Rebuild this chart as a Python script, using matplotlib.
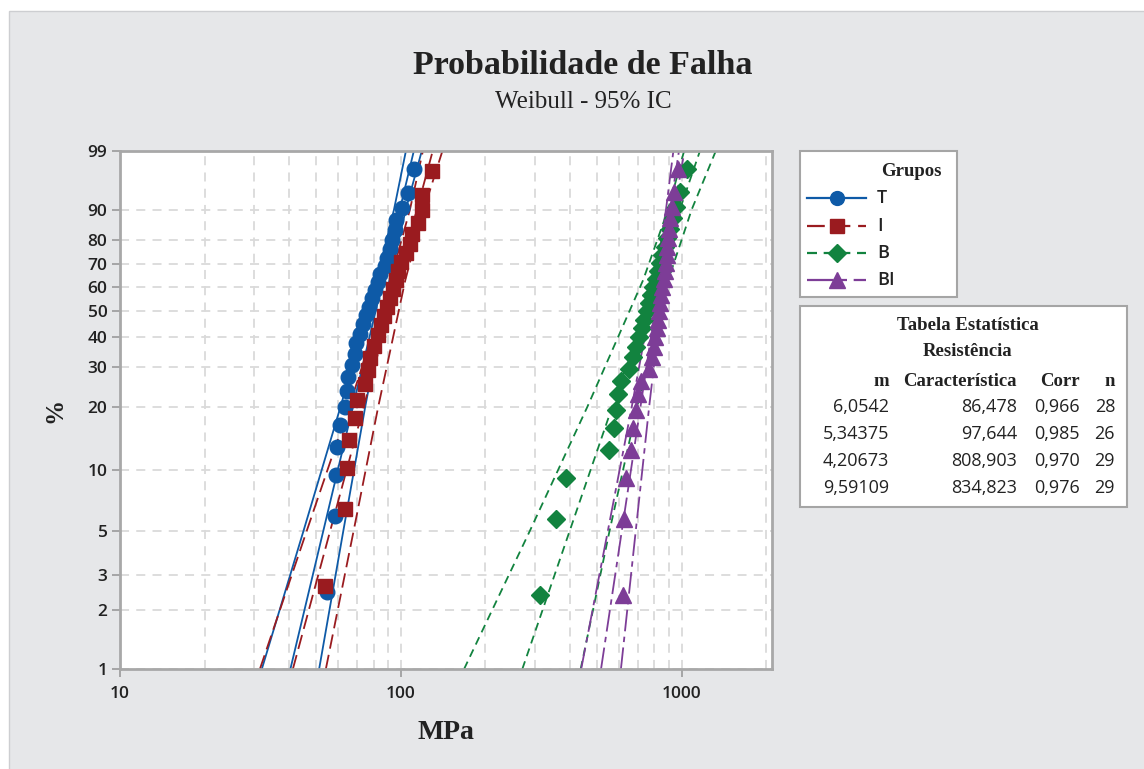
import numpy as np
import matplotlib.pyplot as plt
from matplotlib.lines import Line2D
from matplotlib.patches import Rectangle

# Grupos e estilos
groups = ["T", "I", "B", "BI"]
colors = ["#0E5AA7", "#9A1B1F", "#12833F", "#7D3D97"]
markers = ["o", "s", "D", "^"]
msizes = [10.5, 10.0, 9.5, 11.5]
dashes = [None, (8, 3.5), (4.5, 3), (12, 3, 3, 3)]

# Resistencia (MPa), em ordem crescente
t_mpa = [54.5, 58.1, 58.8, 59.1, 60.7, 63.4, 64.1, 64.8, 67.3, 68.7, 69.1, 71.5,
         73.5, 75.3, 77.2, 79.0, 80.9, 82.8, 84.5, 88.2, 89.3, 91.8, 92.7, 95.6,
         96.2, 101.0, 106.1, 111.6]
i_mpa = [53.7, 63.1, 64.1, 65.5, 68.5, 70.0, 74.6, 76.7, 77.5, 80.6, 82.9, 85.1,
         87.3, 89.4, 91.5, 93.7, 95.8, 98.0, 100.3, 104.5, 107.5, 110.0, 115.0,
         119.5, 119.5, 129.0]
b_mpa = [312.5, 357.5, 389.0, 553.6, 577.0, 586.6, 592.9, 609.5, 648.0, 674.0,
         690.0, 704.4, 724.3, 733.9, 751.6, 765.9, 779.8, 794.0, 808.5, 823.3,
         838.3, 853.6, 870.0, 888.0, 907.0, 929.0, 954.3, 988.0, 1048.0]
bi_mpa = [618.6, 623.7, 631.6, 658.1, 669.0, 688.5, 697.0, 720.1, 768.9, 784.8,
          796.5, 807.7, 817.7, 824.5, 830.0, 836.2, 841.6, 853.6, 862.7, 869.9,
          877.1, 884.3, 890.2, 895.3, 902.6, 910.1, 925.1, 936.6, 967.7]

# Tabela estatistica
m_shape = [6.0542, 5.34375, 4.20673, 9.59109]
eta = [86.478, 97.644, 808.903, 834.823]
corr = [0.966, 0.985, 0.970, 0.976]
n_obs = [28, 26, 29, 29]

# Limites do IC 95% (MPa) lidos em alguns niveis de %
ci_pct = [1, 5, 20, 63.2, 90, 99]
t_low = [32.0, 45.0, 61.0, 82.1, 94.6, 104.3]
t_up = [51.2, 62.4, 74.7, 91.1, 104.2, 118.8]
i_low = [31.5, 46.2, 65.4, 91.9, 107.8, 119.9]
i_up = [54.1, 67.9, 83.1, 103.8, 120.8, 140.7]
b_low = [168.1, 287.9, 461.8, 729.7, 895.1, 1021.2]
b_up = [437.3, 553.8, 694.4, 896.7, 1086.8, 1324.3]
bi_low = [439.1, 546.2, 664.8, 805.1, 880.3, 935.3]
bi_up = [608.3, 686.7, 766.7, 865.6, 942.2, 1024.5]

y_ticks = [1, 2, 3, 5, 10, 20, 30, 40, 50, 60, 70, 80, 90, 99]

data = [t_mpa, i_mpa, b_mpa, bi_mpa]
lows = [t_low, i_low, b_low, bi_low]
ups = [t_up, i_up, b_up, bi_up]

serif = "Liberation Serif"
sans = "Open Sans"
W, H = 1144, 769


def fwd(p):
    p = np.clip(np.asarray(p, dtype=float), 1e-6, 100 - 1e-6)
    return np.log(-np.log(1 - p / 100.0))


def inv(w):
    return 100.0 * (1 - np.exp(-np.exp(np.asarray(w, dtype=float))))


fig = plt.figure(figsize=(W / 100, H / 100), dpi=100, facecolor="white")

# fundo cinza e caixas da legenda
bg = fig.add_axes([0, 0, 1, 1], zorder=-5)
bg.set_xlim(0, W)
bg.set_ylim(H, 0)
bg.axis("off")
bg.add_patch(Rectangle((9, 11), W, H, facecolor="#E6E7E9", edgecolor="#CDCED1", lw=1))

ax = fig.add_axes([120 / W, 1 - 669 / H, (772 - 120) / W, (669 - 151) / H])
ax.set_facecolor("white")
ax.set_xscale("log")
ax.set_yscale("function", functions=(fwd, inv))
ax.set_xlim(10, 2100)
ax.set_ylim(1, 99)

# grade
grid_x = [v * d for d in (10, 100, 1000) for v in range(1, 10) if v * d <= 2000]
for gx in grid_x:
    ax.axvline(gx, color="#DADADA", lw=1.3, ls=(0, (5, 4)), zorder=0)
for gy in y_ticks:
    ax.axhline(gy, color="#DADADA", lw=1.3, ls=(0, (5, 4)), zorder=0)

for k in range(4):
    col = colors[k]
    ls = "-" if dashes[k] is None else (0, dashes[k])
    # linha ajustada a partir de m e escala caracteristica
    p_end = np.array([1.0, 99.0])
    x_fit = eta[k] * (-np.log(1 - p_end / 100)) ** (1 / m_shape[k])
    ax.plot(x_fit, p_end, color=col, lw=1.3, ls=ls, zorder=2)
    ax.plot(lows[k], ci_pct, color=col, lw=1.3, ls=ls, zorder=2)
    ax.plot(ups[k], ci_pct, color=col, lw=1.3, ls=ls, zorder=2)
    # posicoes de plotagem (rank mediano)
    n = len(data[k])
    rank = (np.arange(1, n + 1) - 0.3) / (n + 0.4) * 100
    ax.plot(data[k], rank, ls="none", marker=markers[k], ms=msizes[k],
            color=col, mec=col, zorder=3)

ax.set_yticks(y_ticks)
ax.set_yticklabels([str(v) for v in y_ticks])
ax.yaxis.set_minor_locator(plt.NullLocator())
ax.set_xticks([10, 100, 1000])
ax.set_xticklabels(["10", "100", "1000"])
ax.xaxis.set_minor_locator(plt.NullLocator())
ax.tick_params(axis="both", direction="out", length=6, width=1.3, color="#A0A0A0",
               labelcolor="#222222", labelsize=12.5)
for lab in ax.get_xticklabels() + ax.get_yticklabels():
    lab.set_fontfamily(sans)
    lab.set_fontweight("semibold")
ax.tick_params(axis="x", pad=6)
ax.tick_params(axis="y", pad=3)
for sp in ax.spines.values():
    sp.set_color("#A8A8A8")
    sp.set_linewidth(2)

ax.set_xlabel("MPa", fontfamily=serif, fontweight="bold", fontsize=20, color="#222222")
ax.xaxis.set_label_coords(0.5, -0.122)
ax.xaxis.label.set_va("center")
ax.set_ylabel("%", fontfamily=serif, fontweight="bold", fontsize=18, color="#222222")
ax.yaxis.set_label_coords(-0.1, 0.5)
ax.yaxis.label.set_va("center")

fig.text(583 / W, 1 - 65 / H, "Probabilidade de Falha", fontfamily=serif,
         fontweight="bold", fontsize=24.5, ha="center", va="center", color="#222222")
fig.text(583 / W, 1 - 102 / H, "Weibull - 95% IC", fontfamily=serif,
         fontsize=18, ha="center", va="center", color="#222222")

# legenda dos grupos
bg.add_patch(Rectangle((800, 151), 157, 146, facecolor="white", edgecolor="#A5A5A5", lw=1.5))
bg.text(911, 172, "Grupos", fontfamily=serif, fontweight="bold", fontsize=13.5,
        ha="center", va="center", color="#222222")
for k, yy in enumerate([198, 226, 253, 280]):
    ls = "-" if dashes[k] is None else (0, dashes[k])
    bg.add_line(Line2D([807, 866], [yy, yy], color=colors[k], lw=1.6, ls=ls))
    bg.plot([837], [yy], marker=markers[k], ms=msizes[k] * 0.95, color=colors[k])
    bg.text(877, yy, groups[k], fontfamily=sans, fontweight="semibold", fontsize=13,
            ha="left", va="center", color="#222222")

# tabela estatistica
bg.add_patch(Rectangle((800, 306), 327, 201, facecolor="white", edgecolor="#A5A5A5", lw=1.5))
bg.text(968, 326, "Tabela Estatística", fontfamily=serif, fontweight="bold",
        fontsize=13.5, ha="center", va="center", color="#222222")
bg.text(968, 352, "Resistência", fontfamily=serif, fontweight="bold",
        fontsize=13.5, ha="center", va="center", color="#222222")
col_x = [889, 1017, 1080, 1115]
for cx, h in zip(col_x, ["m", "Característica", "Corr", "n"]):
    bg.text(cx, 381, h, fontfamily=serif, fontweight="bold", fontsize=13.5,
            ha="right", va="center", color="#222222")
for k, yy in enumerate([407, 434, 461, 488]):
    row = [str(m_shape[k]).replace(".", ","),
           f"{eta[k]:.3f}".replace(".", ","),
           f"{corr[k]:.3f}".replace(".", ","),
           str(n_obs[k])]
    for cx, s in zip(col_x, row):
        bg.text(cx, yy, s, fontfamily=sans, fontsize=13, ha="right",
                va="center", color="#222222")

fig.savefig("out.png", dpi=100, facecolor=fig.get_facecolor())
